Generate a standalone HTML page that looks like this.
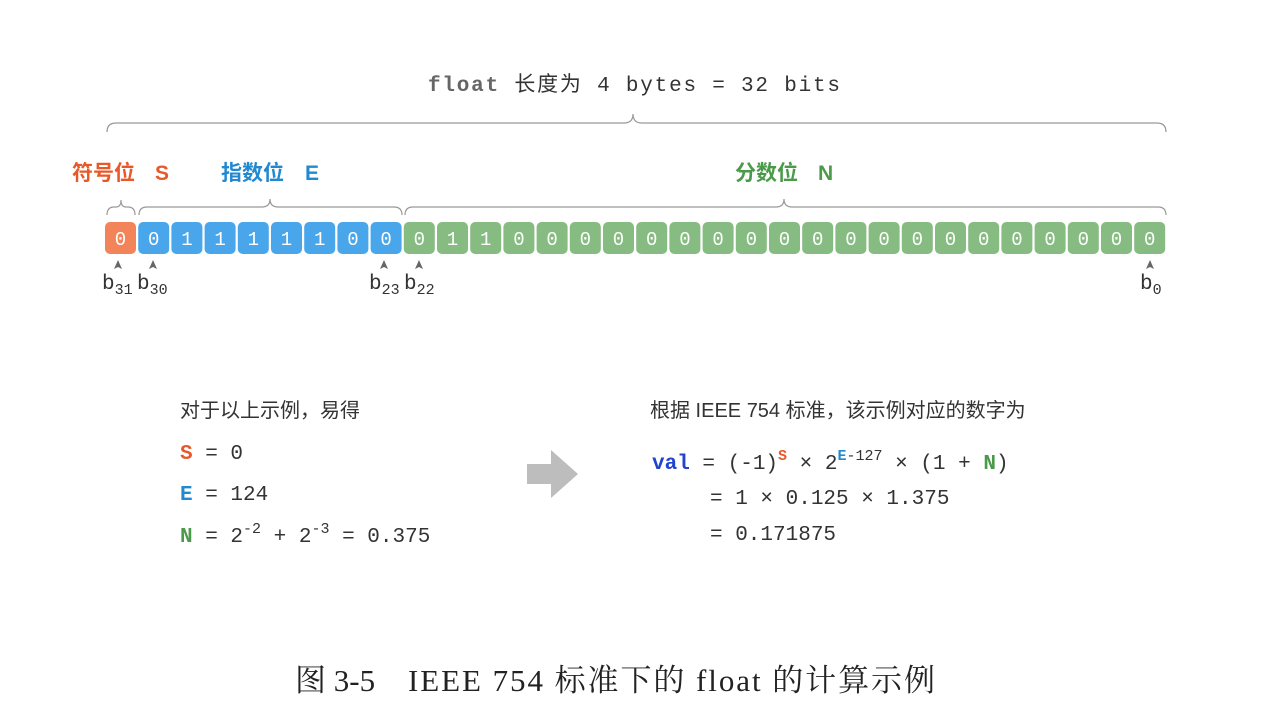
<!DOCTYPE html>
<html><head><meta charset="utf-8"><style>
body{margin:0;background:#fff;width:1264px;height:709px;overflow:hidden}
svg{display:block}
.m{font-family:"Liberation Mono","DejaVu Sans Mono",monospace}
.c{font-family:"Liberation Sans","Noto Sans CJK SC",sans-serif}
.s{font-family:"Liberation Serif","Noto Serif CJK SC",serif}
.w{fill:#fff;font-size:19px;text-anchor:middle}
</style></head><body>
<svg width="1264" height="709" xmlns="http://www.w3.org/2000/svg" xml:space="preserve">
<text x="428" y="91" textLength="412" lengthAdjust="spacing" font-size="21" fill="#333" class="m"><tspan font-weight="bold" fill="#666">float</tspan> <tspan class="c">长度为</tspan> 4 bytes = 32 bits</text>
<g fill="none" stroke="#999" stroke-width="1.2">
<path d="M107 132 q0 -9 9 -9 H624 q9 0 9 -9 q0 9 9 9 H1157 q9 0 9 9"/>
<path d="M107 215 q0 -8 7 -8 h2 q5 0 5 -7 q0 7 5 7 h2 q7 0 7 8"/>
<path d="M139 215 q0 -8 8 -8 H262 q8 0 8 -8 q0 8 8 8 H394 q8 0 8 8"/>
<path d="M405 215 q0 -8 8 -8 H776 q8 0 8 -8 q0 8 8 8 H1158 q8 0 8 8"/>
</g>
<text x="72" y="180" font-size="21" fill="#e8582a" class="c" font-weight="bold">符号位<tspan x="155">S</tspan></text>
<text x="221" y="180" font-size="21" fill="#2288d0" class="c" font-weight="bold">指数位<tspan x="305">E</tspan></text>
<text x="735" y="180" font-size="21" fill="#4a9a4a" class="c" font-weight="bold">分数位<tspan x="818">N</tspan></text>
<g>
<rect x="105" y="222" width="31" height="32" rx="5" fill="#f3845a"/>
<g fill="#4aa6ea">
<rect x="138.2" y="222" width="31" height="32" rx="5"/><rect x="171.4" y="222" width="31" height="32" rx="5"/><rect x="204.6" y="222" width="31" height="32" rx="5"/><rect x="237.8" y="222" width="31" height="32" rx="5"/><rect x="271" y="222" width="31" height="32" rx="5"/><rect x="304.2" y="222" width="31" height="32" rx="5"/><rect x="337.4" y="222" width="31" height="32" rx="5"/><rect x="370.6" y="222" width="31" height="32" rx="5"/>
</g>
<g fill="#86bb82">
<rect x="403.8" y="222" width="31" height="32" rx="5"/><rect x="437" y="222" width="31" height="32" rx="5"/><rect x="470.2" y="222" width="31" height="32" rx="5"/><rect x="503.4" y="222" width="31" height="32" rx="5"/><rect x="536.6" y="222" width="31" height="32" rx="5"/><rect x="569.8" y="222" width="31" height="32" rx="5"/><rect x="603" y="222" width="31" height="32" rx="5"/><rect x="636.2" y="222" width="31" height="32" rx="5"/><rect x="669.4" y="222" width="31" height="32" rx="5"/><rect x="702.6" y="222" width="31" height="32" rx="5"/><rect x="735.8" y="222" width="31" height="32" rx="5"/><rect x="769" y="222" width="31" height="32" rx="5"/><rect x="802.2" y="222" width="31" height="32" rx="5"/><rect x="835.4" y="222" width="31" height="32" rx="5"/><rect x="868.6" y="222" width="31" height="32" rx="5"/><rect x="901.8" y="222" width="31" height="32" rx="5"/><rect x="935" y="222" width="31" height="32" rx="5"/><rect x="968.2" y="222" width="31" height="32" rx="5"/><rect x="1001.4" y="222" width="31" height="32" rx="5"/><rect x="1034.6" y="222" width="31" height="32" rx="5"/><rect x="1067.8" y="222" width="31" height="32" rx="5"/><rect x="1101" y="222" width="31" height="32" rx="5"/><rect x="1134.2" y="222" width="31" height="32" rx="5"/>
</g>
<g class="m w">
<text x="120.5" y="245">0</text><text x="153.7" y="245">0</text><text x="186.9" y="245">1</text><text x="220.1" y="245">1</text><text x="253.3" y="245">1</text><text x="286.5" y="245">1</text><text x="319.7" y="245">1</text><text x="352.9" y="245">0</text><text x="386.1" y="245">0</text>
<text x="419.3" y="245">0</text><text x="452.5" y="245">1</text><text x="485.7" y="245">1</text><text x="518.9" y="245">0</text><text x="552.1" y="245">0</text><text x="585.3" y="245">0</text><text x="618.5" y="245">0</text><text x="651.7" y="245">0</text><text x="684.9" y="245">0</text><text x="718.1" y="245">0</text><text x="751.3" y="245">0</text><text x="784.5" y="245">0</text><text x="817.7" y="245">0</text><text x="850.9" y="245">0</text><text x="884.1" y="245">0</text><text x="917.3" y="245">0</text><text x="950.5" y="245">0</text><text x="983.7" y="245">0</text><text x="1016.9" y="245">0</text><text x="1050.1" y="245">0</text><text x="1083.3" y="245">0</text><text x="1116.5" y="245">0</text><text x="1149.7" y="245">0</text>
</g>
</g>
<g fill="#666">
<path d="M118 260 l-4 9 l4 -2 l4 2z"/><path d="M153 260 l-4 9 l4 -2 l4 2z"/><path d="M384 260 l-4 9 l4 -2 l4 2z"/><path d="M419 260 l-4 9 l4 -2 l4 2z"/><path d="M1150 260 l-4 9 l4 -2 l4 2z"/>
</g>
<g font-size="21" fill="#333" class="m">
<text x="102" y="289">b<tspan font-size="15" dy="5">31</tspan></text>
<text x="137" y="289">b<tspan font-size="15" dy="5">30</tspan></text>
<text x="369" y="289">b<tspan font-size="15" dy="5">23</tspan></text>
<text x="404" y="289">b<tspan font-size="15" dy="5">22</tspan></text>
<text x="1140" y="289">b<tspan font-size="15" dy="5">0</tspan></text>
</g>
<text x="180" y="417" font-size="20" fill="#333" class="c">对于以上示例，易得</text>
<g font-size="21" fill="#333" class="m">
<text x="180" y="459"><tspan fill="#e8582a" font-weight="bold">S</tspan> = 0</text>
<text x="180" y="500"><tspan fill="#2288d0" font-weight="bold">E</tspan> = 124</text>
<text x="180" y="542"><tspan fill="#4a9a4a" font-weight="bold">N</tspan> = 2<tspan font-size="15" dy="-9">-2</tspan><tspan dy="9"> + 2</tspan><tspan font-size="15" dy="-9">-3</tspan><tspan dy="9"> = 0.375</tspan></text>
</g>
<path d="M527 464 h24 v-14 l27 24 l-27 24 v-14 h-24z" fill="#bdbdbd"/>
<text x="650" y="417" font-size="20" fill="#333" class="c">根据 IEEE 754 标准，该示例对应的数字为</text>
<g font-size="21" fill="#333" class="m">
<text x="652" y="469"><tspan fill="#2244cc" font-weight="bold">val</tspan> = (-1)<tspan font-size="15" dy="-9" fill="#e8582a" font-weight="bold">S</tspan><tspan dy="9"> × 2</tspan><tspan font-size="15" dy="-9"><tspan fill="#2288d0" font-weight="bold">E</tspan>-127</tspan><tspan dy="9"> × (1 + </tspan><tspan fill="#4a9a4a" font-weight="bold">N</tspan>)</text>
<text x="710" y="504">= 1 × 0.125 × 1.375</text>
<text x="710" y="540">= 0.171875</text>
</g>
<text x="295" y="691" font-size="31" fill="#222" class="s">图 3-5</text>
<text x="408" y="691" font-size="31" fill="#222" class="s" textLength="527" lengthAdjust="spacing">IEEE 754 标准下的 float 的计算示例</text>
</svg>
</body></html>
